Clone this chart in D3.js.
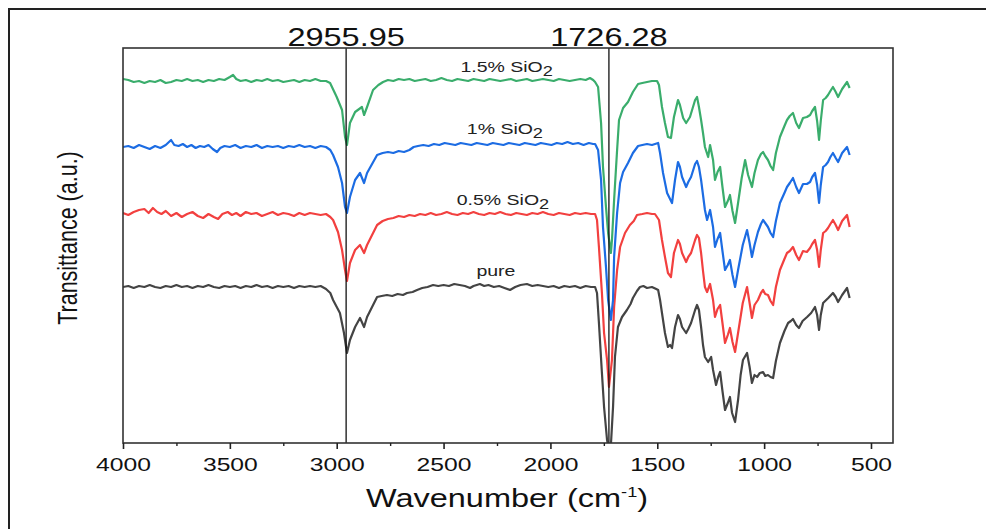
<!DOCTYPE html>
<html><head><meta charset="utf-8">
<script src="https://cdn.jsdelivr.net/npm/d3@7"></script>
<style>
body{margin:0;background:#fff}
text{font-family:Arial,"Liberation Sans",sans-serif}
</style>
</head><body>
<svg id="c" width="986" height="529"></svg>
<script>
// ---------- data ----------
const xTicks = [4000,3500,3000,2500,2000,1500,1000,500];
const xMinorTicks = [3750,3250,2750,2250,1750,1250,750];
const peakMarks = [2955.95, 1726.28];
const peakLabels = ["2955.95", "1726.28"];
const seriesNames = ["pure","0.5% SiO","1% SiO","1.5% SiO"];
const seriesSub = ["","2","2","2"];
const seriesColors = ["#444444","#f2403f","#1c6ce3","#3aad6c"];
const labelWavenumbers = [2255, 2222, 2213, 2205];

// [wavenumber (cm-1), transmittance (a.u.)]
const pure = [[4000,156],[3975,157],[3950,155],[3925,157],[3900,156],[3875,158],[3850,156],[3825,155],[3800,157],[3775,156],[3750,158],[3725,156],[3700,157],[3675,155],[3650,157],[3625,156],[3600,158],[3575,156],[3550,155],[3525,157],[3500,156],[3475,157],[3450,155],[3425,157],[3400,156],[3375,158],[3350,156],[3325,157],[3300,155],[3275,157],[3250,156],[3225,157],[3200,155],[3175,157],[3150,156],[3125,157],[3100,156],[3075,157],[3050,154],[3030,150],[3017,143],[2985,130],[2966,110],[2952,90],[2938,103],[2914,116],[2891,125],[2872,116],[2858,126],[2811,146],[2790,147],[2765,148],[2740,147],[2715,149],[2690,148],[2671,150],[2645,151],[2624,153],[2600,155],[2575,156],[2549,158],[2525,157],[2500,158],[2475,157],[2450,159],[2425,158],[2400,157],[2376,155],[2360,157],[2345,158],[2330,159],[2310,157],[2290,158],[2265,156],[2240,157],[2215,155],[2189,153],[2165,156],[2140,158],[2110,159],[2085,157],[2060,158],[2035,157],[2010,156],[1985,157],[1960,155],[1935,157],[1910,156],[1885,157],[1860,155],[1835,157],[1810,156],[1791,156],[1782,150],[1773,120],[1759,70],[1749,36],[1735,3],[1726,-7],[1717,-2],[1707,36],[1698,86],[1684,116],[1665,126],[1642,133],[1625,139],[1614,145],[1595,152],[1581,156],[1565,157],[1548,155],[1525,156],[1505,154],[1496,153],[1487,143],[1478,130],[1464,110],[1450,96],[1440,98],[1431,95],[1417,116],[1403,128],[1394,124],[1384,116],[1365,110],[1355,114],[1342,120],[1323,133],[1314,138],[1305,133],[1295,116],[1286,98],[1277,86],[1262,81],[1248,86],[1239,73],[1225,58],[1215,66],[1206,71],[1195,52],[1183,33],[1170,40],[1160,46],[1150,30],[1136,21],[1122,43],[1110,68],[1099,83],[1080,90],[1068,76],[1057,60],[1045,68],[1033,66],[1020,70],[1005,71],[995,67],[982,68],[970,66],[958,65],[945,82],[926,100],[905,112],[888,120],[875,122],[865,124],[850,118],[837,115],[820,122],[799,126],[780,130],[762,136],[752,128],[743,113],[735,128],[724,140],[700,145],[678,150],[665,146],[654,141],[635,148],[612,155],[600,145]];
const sio2_05 = [[4000,230],[3975,228],[3950,231],[3925,233],[3900,234],[3880,230],[3860,235],[3840,231],[3820,229],[3800,232],[3775,227],[3750,230],[3725,226],[3700,229],[3675,231],[3650,227],[3625,225],[3600,229],[3575,226],[3555,224],[3535,229],[3510,231],[3490,228],[3470,230],[3450,227],[3425,231],[3400,229],[3375,230],[3350,227],[3325,229],[3300,231],[3275,228],[3250,230],[3225,229],[3200,227],[3175,230],[3150,228],[3125,230],[3100,229],[3075,228],[3050,229],[3030,226],[3017,223],[2994,211],[2975,193],[2961,173],[2952,162],[2938,180],[2914,193],[2891,198],[2872,190],[2858,198],[2811,218],[2785,222],[2760,224],[2735,225],[2710,227],[2685,226],[2660,228],[2635,227],[2610,229],[2585,228],[2560,230],[2535,228],[2510,229],[2485,231],[2460,229],[2435,228],[2410,230],[2385,229],[2360,231],[2335,229],[2310,228],[2285,230],[2260,229],[2235,231],[2210,229],[2185,228],[2160,230],[2135,229],[2110,228],[2085,230],[2060,229],[2035,231],[2010,229],[1985,228],[1960,230],[1935,229],[1910,228],[1885,230],[1860,229],[1835,230],[1810,229],[1791,229],[1782,223],[1773,196],[1759,150],[1749,110],[1735,83],[1726,56],[1712,83],[1702,136],[1688,173],[1674,196],[1651,210],[1628,218],[1610,222],[1595,228],[1570,229],[1548,230],[1525,229],[1511,229],[1492,223],[1478,203],[1464,186],[1450,170],[1436,166],[1422,190],[1403,203],[1394,199],[1384,190],[1365,181],[1355,186],[1342,190],[1323,203],[1314,208],[1305,205],[1295,190],[1286,172],[1277,156],[1267,151],[1253,159],[1239,143],[1230,126],[1218,134],[1206,138],[1195,120],[1183,100],[1170,108],[1160,115],[1148,101],[1136,91],[1122,110],[1100,140],[1080,156],[1068,140],[1057,125],[1045,138],[1029,143],[1015,150],[1005,153],[995,149],[982,148],[970,142],[958,138],[945,156],[926,173],[905,184],[893,190],[880,192],[865,196],[850,188],[837,183],[818,192],[800,191],[785,195],[775,199],[762,203],[752,193],[743,176],[735,193],[724,210],[712,212],[701,215],[690,219],[678,223],[665,218],[654,213],[635,222],[612,228],[600,216]];
const sio2_1 = [[4000,296],[3975,297],[3950,295],[3925,298],[3900,296],[3875,294],[3850,297],[3825,295],[3800,298],[3775,303],[3760,298],[3740,297],[3720,299],[3700,296],[3680,298],[3660,295],[3640,297],[3620,296],[3600,298],[3580,294],[3560,291],[3545,295],[3525,297],[3500,296],[3475,298],[3450,295],[3425,297],[3400,296],[3375,298],[3350,295],[3325,297],[3300,296],[3275,297],[3250,295],[3225,297],[3200,296],[3175,298],[3150,296],[3125,297],[3100,295],[3075,297],[3050,296],[3030,293],[3017,288],[2994,276],[2975,260],[2961,236],[2952,230],[2938,246],[2914,263],[2891,270],[2872,260],[2858,270],[2811,288],[2785,290],[2760,291],[2735,290],[2710,292],[2685,291],[2660,293],[2640,296],[2620,297],[2595,298],[2570,297],[2545,299],[2520,298],[2495,300],[2470,299],[2445,298],[2420,300],[2395,299],[2370,298],[2345,300],[2320,299],[2295,298],[2270,300],[2245,299],[2220,298],[2195,300],[2170,299],[2145,298],[2120,300],[2095,299],[2070,298],[2045,300],[2020,299],[1995,298],[1970,300],[1945,299],[1920,301],[1895,299],[1870,300],[1845,298],[1820,300],[1800,299],[1791,299],[1777,293],[1763,263],[1754,216],[1740,176],[1730,143],[1717,123],[1707,143],[1702,186],[1688,230],[1674,260],[1660,271],[1637,280],[1614,290],[1590,297],[1570,298],[1548,299],[1525,298],[1496,300],[1487,290],[1473,270],[1454,250],[1431,240],[1417,263],[1403,281],[1394,276],[1384,266],[1365,256],[1355,261],[1342,266],[1323,279],[1314,282],[1305,276],[1295,263],[1286,248],[1277,233],[1267,223],[1253,233],[1239,216],[1230,196],[1218,204],[1206,210],[1195,192],[1183,173],[1170,178],[1160,183],[1148,168],[1136,156],[1122,173],[1100,198],[1080,213],[1068,200],[1057,186],[1045,198],[1029,211],[1015,219],[1005,223],[995,220],[982,216],[970,210],[958,206],[945,222],[926,240],[905,250],[893,256],[880,260],[865,265],[850,256],[837,250],[818,259],[800,259],[785,261],[775,266],[762,270],[752,258],[743,240],[735,258],[724,276],[712,278],[701,281],[690,286],[678,290],[665,285],[654,281],[635,290],[612,296],[600,288]];
const sio2_15 = [[4000,364],[3975,363],[3950,361],[3925,362],[3900,360],[3875,362],[3850,361],[3825,363],[3800,360],[3775,361],[3750,363],[3725,362],[3700,364],[3675,362],[3650,363],[3625,361],[3600,363],[3575,362],[3550,364],[3525,363],[3500,366],[3485,368],[3470,364],[3450,362],[3425,363],[3400,361],[3375,363],[3350,362],[3325,364],[3300,362],[3275,363],[3250,361],[3225,362],[3200,363],[3175,361],[3150,363],[3125,362],[3100,364],[3075,362],[3050,362],[3031,360],[3000,346],[2975,333],[2961,306],[2952,298],[2938,320],[2914,331],[2882,336],[2872,328],[2858,336],[2830,353],[2805,358],[2783,361],[2760,363],[2735,362],[2710,364],[2685,363],[2660,364],[2635,362],[2610,363],[2585,364],[2560,362],[2535,363],[2510,365],[2485,363],[2460,362],[2435,364],[2410,363],[2385,362],[2360,364],[2335,363],[2310,362],[2285,364],[2260,363],[2235,362],[2210,363],[2185,364],[2160,362],[2135,363],[2110,364],[2085,362],[2060,363],[2035,364],[2010,363],[1985,362],[1960,364],[1935,363],[1910,362],[1885,363],[1860,364],[1835,363],[1815,365],[1800,363],[1791,361],[1777,356],[1763,320],[1754,276],[1740,236],[1730,210],[1717,190],[1712,203],[1702,243],[1688,293],[1679,323],[1660,335],[1637,341],[1614,351],[1590,359],[1570,360],[1548,361],[1525,362],[1501,362],[1492,358],[1478,336],[1464,320],[1450,306],[1436,305],[1422,326],[1403,343],[1394,338],[1379,325],[1365,320],[1347,326],[1323,343],[1314,346],[1305,336],[1295,323],[1286,310],[1277,296],[1262,286],[1253,298],[1239,283],[1230,263],[1218,271],[1206,276],[1195,256],[1183,236],[1170,242],[1160,248],[1148,232],[1136,220],[1122,240],[1105,265],[1089,283],[1075,268],[1057,256],[1045,270],[1029,283],[1015,289],[1005,291],[995,287],[982,283],[970,277],[958,273],[945,290],[926,306],[905,317],[893,323],[880,327],[865,330],[850,320],[837,315],[818,325],[800,326],[785,328],[775,332],[762,336],[752,322],[743,303],[735,322],[724,343],[712,345],[701,348],[690,352],[678,356],[665,351],[654,346],[635,354],[612,361],[600,355]];
const seriesData = [pure, sio2_05, sio2_1, sio2_15];

// ---------- layout ----------
const svg = d3.select("#c");
const L = 123, R = 893, T = 48, B = 443;
const SX = 1.3; // horizontal stretch of the original figure's lettering
const x = d3.scaleLinear().domain([4000, 397]).range([L, R]);
const y = d3.scaleLinear().domain([0, 395]).range([B, T]);

svg.append("rect").attr("width",986).attr("height",529).attr("fill","#fff");
svg.append("path").attr("d","M9,529 L9,9 L986,9").attr("fill","none").attr("stroke","#222").attr("stroke-width",2);

svg.append("defs").append("clipPath").attr("id","clip")
  .append("rect").attr("x",L).attr("y",T).attr("width",R-L).attr("height",B-T);

const line = d3.line().x(d=>x(d[0])).y(d=>y(d[1]));
const g = svg.append("g").attr("clip-path","url(#clip)");
seriesData.forEach((s,i)=>{
  g.append("path").datum(s).attr("d",line).attr("fill","none")
   .attr("stroke",seriesColors[i]).attr("stroke-width",2.2).attr("stroke-linejoin","round");
});

// peak marker lines
peakMarks.forEach((p,i)=>{
  svg.append("line").attr("x1",x(p)).attr("x2",x(p)).attr("y1",T).attr("y2",B)
    .attr("stroke","#111").attr("stroke-width",1.3);
  svg.append("text").attr("transform",`translate(${x(p)},${T-2}) scale(${SX},1)`)
    .attr("text-anchor","middle").attr("font-size",25).attr("fill","#111").text(peakLabels[i]);
});

// frame
svg.append("rect").attr("x",L).attr("y",T).attr("width",R-L).attr("height",B-T)
  .attr("fill","none").attr("stroke","#333").attr("stroke-width",1.6);

// axes
const ax = svg.append("g").attr("transform",`translate(0,${B})`)
  .call(d3.axisBottom(x).tickValues(xTicks).tickSize(6).tickPadding(9).tickFormat(d3.format("d")));
ax.select(".domain").remove();
ax.selectAll(".tick line").attr("stroke","#222").attr("stroke-width",1.6);
ax.selectAll("text").attr("font-size",19).attr("fill","#111")
  .attr("font-family","Arial, Liberation Sans, sans-serif")
  .attr("transform",`scale(${SX},1)`);
const axm = svg.append("g").attr("transform",`translate(0,${B})`)
  .call(d3.axisBottom(x).tickValues(xMinorTicks).tickSize(3).tickFormat(""));
axm.select(".domain").remove();
axm.selectAll(".tick line").attr("stroke","#222").attr("stroke-width",1.4);

// series labels
const labelOffsets = [10, 9, 9, 7];
seriesNames.forEach((n,i)=>{
  const base = seriesData[i].find(d=>d[0]<=labelWavenumbers[i]);
  const t = svg.append("text")
    .attr("transform",`translate(${x(labelWavenumbers[i])},${y(base[1])-labelOffsets[i]}) scale(${SX},1)`)
    .attr("text-anchor","middle").attr("font-size",15).attr("fill","#222");
  t.append("tspan").text(n);
  if (seriesSub[i]) t.append("tspan").attr("dy",4).attr("font-size",14).text(seriesSub[i]);
});

// axis titles
const xt = svg.append("text").attr("transform",`translate(${(L+R)/2-1},507) scale(${SX},1)`)
  .attr("text-anchor","middle").attr("font-size",25).attr("fill","#111");
xt.append("tspan").text("Wavenumber (cm");
xt.append("tspan").attr("dy",-10).attr("font-size",14).text("-1");
xt.append("tspan").attr("dy",10).text(")");

svg.append("text").attr("transform",`translate(77,238) rotate(-90) scale(1,${SX})`)
  .attr("text-anchor","middle").attr("font-size",21.5).attr("fill","#111")
  .text("Transittance (a.u.)");
</script>
</body></html>
